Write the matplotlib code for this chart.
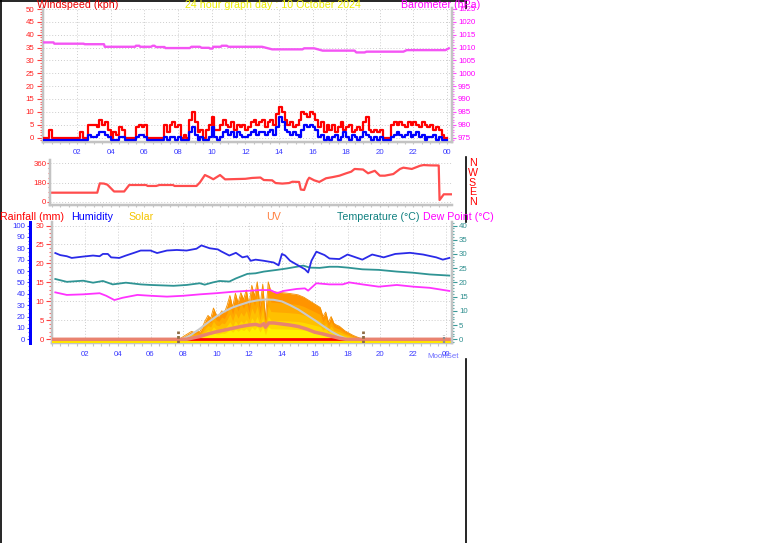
import numpy as np
import matplotlib
matplotlib.use("Agg")
import matplotlib.pyplot as plt
from matplotlib import transforms
from matplotlib.lines import Line2D
from matplotlib.ticker import MultipleLocator

# ---------------- data ----------------
title_text = "24 hour graph day : 10 October 2024"
hour_ticks = [2, 4, 6, 8, 10, 12, 14, 16, 18, 20, 22, 24]
hour_labels = ["02", "04", "06", "08", "10", "12", "14", "16", "18", "20", "22", "00"]

# wind (kph), 10-minute samples from 00:00
wind_gust = [
    0, 0, 3, 0, 0, 0,
    0, 0, 0, 0, 0, 0,
    0, 2, 0, 0, 5, 5,
    5, 4, 7, 5, 6, 3,
    0, 2, 1, 4, 3, 0,
    0, 0, 0, 4, 5, 4,
    5, 0, 0, 0, 0, 0,
    0, 5, 2, 5, 6, 4,
    5, 0, 1, 0, 7, 10,
    6, 2, 3, 0, 3, 5,
    8, 3, 3, 5, 7, 5,
    4, 6, 3, 5, 4, 5,
    3, 4, 6, 7, 5, 6,
    7, 4, 6, 7, 5, 9,
    12, 10, 7, 5, 6, 4,
    5, 7, 10, 9, 8, 10,
    9, 7, 4, 6, 2, 5,
    3, 5, 2, 4, 6, 3,
    4, 5, 2, 3, 4, 3,
    6, 8, 3, 2, 3, 2,
    3, 0, 0, 0, 5, 6,
    5, 6, 5, 4, 6, 5,
    6, 5, 4, 6, 5, 4,
    5, 3, 4, 3, 1, 0]
wind_avg = [
    0, 0, 0, 0, 0, 0,
    0, 0, 0, 0, 0, 0,
    0, 0, 0, 0, 2, 1,
    1, 2, 3, 3, 2, 1,
    0, 0, 0, 1, 1, 0,
    0, 0, 0, 1, 2, 2,
    1, 0, 0, 0, 0, 0,
    0, 1, 0, 1, 1, 0,
    1, 0, 0, 0, 3, 5,
    2, 0, 1, 0, 0, 1,
    5, 1, 0, 1, 3, 4,
    2, 3, 1, 3, 2, 1,
    1, 2, 3, 4, 2, 3,
    3, 2, 3, 4, 2, 5,
    9, 7, 4, 3, 2, 3,
    2, 1, 4, 6, 5, 6,
    5, 4, 1, 2, 0, 1,
    0, 1, 2, 0, 1, 3,
    1, 0, 2, 1, 0, 1,
    3, 2, 1, 0, 1, 0,
    1, 0, 0, 0, 1, 2,
    3, 2, 1, 2, 3, 1,
    2, 3, 1, 2, 0, 1,
    1, 2, 0, 1, 0, 0]

baro_hours = [0, 0.6, 0.65, 2.4, 2.45, 3.6, 3.65, 5.45, 5.5, 5.7, 5.75, 6.4, 6.5, 6.6,
              6.7, 7.2, 7.25, 8.7, 8.8, 9.3, 9.4, 9.85, 9.9, 10.05, 10.1, 10.55, 10.6,
              10.9, 11.0, 13.0, 13.6, 15.4, 15.5, 16.1, 16.6, 18.5, 18.6, 19.1, 19.2,
              21.4, 21.6, 23.9, 24.1]
baro_hpa = [1012.0, 1012.0, 1011.5, 1011.5, 1011.3, 1011.3, 1010.3, 1010.3, 1010.7,
            1010.7, 1010.3, 1010.3, 1010.7, 1010.7, 1010.2, 1010.2, 1009.8, 1009.8,
            1010.3, 1010.3, 1009.9, 1009.9, 1009.6, 1009.6, 1010.3, 1010.3, 1010.7,
            1010.7, 1010.3, 1010.3, 1009.3, 1009.3, 1009.7, 1009.7, 1008.8, 1008.8,
            1008.1, 1008.1, 1008.4, 1008.4, 1009.0, 1009.0, 1009.7]

dir_hours = [0.51, 3.2, 3.35, 3.6, 3.8, 4.2, 4.8, 5.1, 6.1, 6.2, 6.7, 6.9, 7.7, 7.8, 9.1,
             9.3, 9.6, 9.85, 10.1, 10.5, 10.8, 11.5, 12.0, 12.4, 12.9, 13.1, 13.6, 13.8,
             14.2, 14.6, 14.8, 15.2, 15.3, 15.5, 15.7, 15.8, 16.1, 16.4, 16.8, 17.2,
             17.6, 18.0, 18.3, 18.5, 19.0, 19.3, 19.7, 20.0, 20.3, 20.8, 21.2, 21.4,
             21.9, 22.4, 22.6, 23.0, 23.5, 23.55, 23.8, 24.29]
dir_deg = [86, 86, 172, 170, 160, 97, 97, 157, 157, 148, 148, 157, 157, 148, 148, 180,
           249, 231, 210, 249, 209, 212, 214, 222, 226, 203, 200, 175, 170, 175, 187,
           185, 115, 111, 200, 224, 200, 185, 219, 230, 243, 265, 280, 305, 300, 265,
           288, 243, 243, 258, 305, 317, 305, 335, 341, 338, 337, 18, 71, 71]
compass = ["N", "W", "S", "E", "N"]
compass_deg = [360, 270, 180, 90, 0]

hum_hours = [0.2, 0.5, 0.9, 1.2, 1.9, 2.5, 2.9, 3.1, 3.4, 3.6, 4.1, 4.5, 5.0, 5.4, 6.0,
             6.4, 7.0, 7.6, 8.2, 8.8, 9.1, 9.6, 10.1, 10.3, 10.8, 11.2, 11.6, 11.9, 12.1,
             12.4, 12.9, 13.5, 13.8, 14.0, 14.2, 14.5, 14.8, 15.1, 15.4, 15.6, 15.8,
             16.1, 16.6, 16.9, 17.5, 18.0, 18.5, 18.9, 19.5, 20.2, 20.9, 21.8, 22.6,
             23.4, 23.8, 24.2]
hum_values = [75.8, 74, 73, 71.5, 72.7, 73.6, 73, 75, 75, 72, 71.5, 73.6, 76, 78, 78,
              75.8, 78, 78.5, 78, 79.6, 82.5, 80, 79, 77.3, 73.6, 76, 72, 73, 69, 70,
              69, 67.5, 65, 75, 73.6, 69, 66.5, 64, 61.6, 58.7, 69, 77, 74, 71, 70.5,
              74.5, 72, 70, 74.5, 72, 75, 76, 74.5, 72, 70, 71.5]

temp_hours = [0.2, 0.9, 1.9, 2.5, 3.1, 3.7, 4.5, 5.4, 6.0, 7.4, 8.2, 9.0, 9.3, 9.8, 10.2,
              10.8, 11.2, 11.9, 12.4, 12.9, 13.7, 14.3, 14.9, 15.3, 15.7, 16.3, 16.9,
              17.4, 18.0, 18.9, 19.9, 21.0, 22.0, 23.0, 24.2]
temp_values = [21.2, 20.2, 20.6, 19.9, 20.5, 19.3, 19.9, 19.3, 19.1, 18.8, 19.1, 19.7,
               19.2, 20.0, 20.5, 20.3, 21.4, 23.0, 23.2, 23.8, 24.4, 24.9, 25.5, 25.9,
               25.2, 25.1, 25.5, 25.5, 25.2, 24.6, 24.4, 23.8, 23.4, 22.8, 22.4]

dew_hours = [0.2, 0.9, 1.9, 2.9, 3.3, 3.8, 4.3, 5.2, 6.0, 7.0, 8.0, 9.0, 10.0, 11.0, 12.1,
             12.7, 13.3, 13.7, 14.1, 14.9, 15.4, 15.6, 16.1, 16.9, 17.7, 18.1, 18.9,
             19.9, 21.0, 22.0, 23.0, 24.2]
dew_values = [16.5, 15.6, 15.8, 16.2, 15.3, 13.8, 14.6, 15.6, 15.3, 15.0, 15.3, 15.8,
              16.2, 16.7, 17.1, 17.3, 17.3, 16.2, 17.0, 17.7, 17.9, 17.1, 19.7, 19.3,
              19.3, 20.0, 19.3, 18.5, 19.1, 18.5, 18.1, 17.0]

# solar radiation (W/m2), 10-minute samples from 07:30
solar_start = 7.5
solar_values = [0, 0, 8,
                25, 40, 55, 70, 60, 75,
                65, 110, 165, 210, 185, 275,
                215, 205, 250, 235, 300, 385,
                280, 405, 320, 410, 350, 435,
                300, 475, 380, 505, 290, 485,
                175, 505, 420, 418, 415, 412,
                410, 408, 405, 402, 398, 395,
                390, 380, 370, 355, 340, 325,
                310, 295, 280, 200, 240, 150,
                200, 140, 125, 115, 95, 75,
                62, 48, 35, 25, 15, 6,
                0]
theo_hours = [7.9, 8.25, 8.5, 9.0, 9.5, 10.0, 10.5, 11.0, 11.5, 12.0, 12.5, 13.0, 13.5,
              14.0, 14.5, 15.0, 15.5, 16.0, 16.5, 17.0, 17.5, 18.0]
theo_values = [0, 22, 42, 92, 148, 200, 245, 280, 305, 328, 342, 350, 347, 333, 300,
               262, 215, 168, 118, 70, 30, 0]

uv_hours = [0.0, 8.2, 8.5, 9.0, 9.5, 10.0, 10.5, 11.0, 11.5, 12.0, 12.4, 12.7, 12.9,
            13.0, 13.2, 13.5, 14.0, 14.5, 15.0, 15.5, 16.0, 16.5, 17.0, 17.5, 17.9, 24.36]
uv_values = [0, 0, 0.15, 0.4, 0.75, 1.05, 1.3, 1.55, 1.8, 2.0, 2.1, 1.9, 2.2, 1.7, 2.3,
             2.3, 2.15, 2.0, 1.8, 1.45, 1.0, 0.75, 0.45, 0.15, 0, 0]

rain_hours = [0.0, 24.36]
rain_mm = [0.0, 0.0]

sun_events = [7.65, 18.97]
moonset = [23.9]

# ---------------- layout helpers ----------------
W, H = 761, 543
P = 0.72  # points per pixel at 100 dpi

plt.rcParams['font.family'] = ['Liberation Sans', 'DejaVu Sans']

fig = plt.figure(figsize=(W / 100, H / 100), dpi=100)
fig.patch.set_facecolor('white')


def box(x0, y0, x1, y1):
    return [x0 / W, 1 - y1 / H, (x1 - x0) / W, (y1 - y0) / H]


def px_lims(v0, v1, zero_px, v1_px, top_px, bot_px):
    ppu = (zero_px - v1_px) / (v1 - v0)
    return (v0 - (bot_px - zero_px) / ppu, v1 + (v1_px - top_px) / ppu)


GRAY = "#c3c3c3"
GRIDKW = dict(color="#cdcdcd", linestyle=(0, (1, 2)), linewidth=0.7)
TFS = 5.7
HFS = 7.7
XLAB = "#3a3aff"


def hide_spines(ax, keep=()):
    for k, s in ax.spines.items():
        s.set_visible(k in keep)
        if k in keep:
            s.set_color(GRAY)
            s.set_linewidth(2.5 * P)


# ---------------- top panel: wind + barometer ----------------
ax1 = fig.add_axes(box(43.4, 8, 452, 142))
ax1.set_xlim(0, 24.29)
ax1.set_ylim(*px_lims(0, 50, 137.5, 9, 8, 142))
ax1.set_axisbelow(True)
ax1.grid(True, which='major', **GRIDKW)
wind_hours = np.arange(len(wind_gust)) / 6.0
wh = np.append(wind_hours, 24.0)
ax1.step(wh, np.append(wind_gust, wind_gust[-1]), where='post', color='#ff0000',
         lw=1.6, zorder=3)
blue_tr = transforms.offset_copy(ax1.transData, fig=fig, x=0, y=-2.5, units='dots')
ax1.step(wh, np.append(wind_avg, wind_avg[-1]), where='post', color='#0000ff',
         lw=1.6, zorder=4, transform=blue_tr)
ax1.set_xticks(hour_ticks)
ax1.set_xticklabels(hour_labels)
ax1.xaxis.set_minor_locator(MultipleLocator(0.5))
ax1.tick_params(axis='x', which='both', colors=GRAY, labelcolor=XLAB, labelsize=TFS,
                length=2 * P, width=0.8, pad=5 * P)
ax1.yaxis.set_major_locator(MultipleLocator(5))
ax1.yaxis.set_minor_locator(MultipleLocator(1))
ax1.tick_params(axis='y', which='major', colors='#ff4040', labelcolor='#ff2020',
                labelsize=TFS, length=6 * P, width=0.8, pad=3 * P)
ax1.tick_params(axis='y', which='minor', colors='#ff6060', length=3 * P, width=0.8)
hide_spines(ax1, keep=('left', 'bottom'))

ax1b = ax1.twinx()
ax1b.set_ylim(*px_lims(975, 1025, 137.5, 9, 8, 142))
ax1b.plot(baro_hours, baro_hpa, color='#f455f4', lw=1.7)
ax1b.yaxis.set_major_locator(MultipleLocator(5))
ax1b.yaxis.set_minor_locator(MultipleLocator(1))
ax1b.tick_params(axis='y', which='major', colors='#ff50ff', labelcolor='#ff00ff',
                 labelsize=TFS, length=4 * P, width=0.8, pad=2 * P)
ax1b.tick_params(axis='y', which='minor', colors='#ff70ff', length=2 * P, width=0.8)
hide_spines(ax1b, keep=('right',))

# ---------------- middle panel: wind direction ----------------
ax2 = fig.add_axes(box(50, 160, 452, 205))
ax2.set_xlim(0.39, 24.29)
ax2.set_ylim(*px_lims(0, 360, 202, 163, 160, 205))
ax2.set_axisbelow(True)
ax2.yaxis.grid(True, **GRIDKW)
ax2.plot(dir_hours, dir_deg, color='#ff4d4d', lw=1.6)
ax2.set_yticks([0, 180, 360])
ax2.yaxis.set_minor_locator(MultipleLocator(45))
ax2.tick_params(axis='y', which='major', colors='#ff4040', labelcolor='#ff2020',
                labelsize=TFS, length=3 * P, width=0.8, pad=0.5 * P)
ax2.tick_params(axis='y', which='minor', colors='#ff6060', length=2 * P, width=0.8)
ax2.set_xticks(hour_ticks)
ax2.set_xticklabels([])
ax2.xaxis.set_minor_locator(MultipleLocator(0.5))
ax2.tick_params(axis='x', which='both', colors=GRAY, length=2 * P, width=0.8)
hide_spines(ax2, keep=('left', 'bottom'))
for c, d in zip(compass, compass_deg):
    ax2.text(1.051, d, c, transform=ax2.get_yaxis_transform(), ha='center',
             va='center', color='#ff0000', fontsize=HFS, clip_on=False)

# ---------------- bottom panel ----------------
BZ, BMAX, BTOP, BBOT = 339.3, 225.5, 222, 343
ax3 = fig.add_axes(box(52, BTOP, 452, BBOT))
ax3.set_zorder(1)
ax3.set_xlim(0, 24.36)
ax3.set_ylim(*px_lims(0, 30, BZ, BMAX, BTOP, BBOT))
ax3.set_axisbelow(True)
ax3.grid(True, which='major', **GRIDKW)
ax3.yaxis.set_major_locator(MultipleLocator(5))
ax3.yaxis.set_minor_locator(MultipleLocator(1))
ax3.tick_params(axis='y', which='major', colors='#ff4040', labelcolor='#ff2020',
                labelsize=TFS, length=6 * P, width=0.8, pad=2 * P)
ax3.tick_params(axis='y', which='minor', colors='#ff6060', length=3 * P, width=0.8)
ax3.set_xticks(hour_ticks)
ax3.set_xticklabels(hour_labels)
ax3.xaxis.set_minor_locator(MultipleLocator(0.5))
ax3.tick_params(axis='x', which='both', colors=GRAY, labelcolor=XLAB, labelsize=TFS,
                length=3 * P, width=0.8, pad=5 * P)
hide_spines(ax3, keep=('left', 'bottom'))

# solar
ax_s = ax3.twinx()
ax_s.set_zorder(2)
ax_s.set_ylim(*px_lims(0, 1000, BZ, BMAX, BTOP, BBOT))
ax_s.set_axis_off()
solar_hours = solar_start + np.arange(len(solar_values)) / 6.0
sv = np.array(solar_values, dtype=float)
ax_s.axhspan(-30, -6, color='#ffe600', lw=0)
for frac, col in zip([1.0, 0.78, 0.58, 0.4, 0.22],
                     ['#ff9400', '#ffa900', '#ffc000', '#ffd800', '#fff200']):
    ax_s.fill_between(solar_hours, 0, sv * frac, color=col, lw=0)
ax_s.plot(solar_hours, sv, color='#f39000', lw=0.6)
ax_s.plot(theo_hours, theo_values, color='#c9c9c9', lw=1.5)

# rain
ax_r = ax3.twinx()
ax_r.set_zorder(3)
ax_r.set_ylim(*px_lims(0, 30, BZ, BMAX, BTOP, BBOT))
ax_r.set_axis_off()
ax_r.plot(rain_hours, rain_mm, color='#ff0000', lw=2.0)

# uv
ax_u = ax3.twinx()
ax_u.set_zorder(4)
ax_u.set_ylim(*px_lims(0, 16, BZ, BMAX, BTOP, BBOT))
ax_u.set_axis_off()
ax_u.plot(uv_hours, uv_values, color='#e98370', lw=2.5, solid_capstyle='butt')

# temperature & dew point
ax_t = ax3.twinx()
ax_t.set_zorder(5)
ax_t.set_ylim(*px_lims(0, 40, BZ, BMAX, BTOP, BBOT))
ax_t.plot(temp_hours, temp_values, color='#2f9494', lw=1.3)
ax_t.plot(dew_hours, dew_values, color='#ff33ff', lw=1.3)
ax_t.yaxis.set_major_locator(MultipleLocator(5))
ax_t.yaxis.set_minor_locator(MultipleLocator(1))
ax_t.tick_params(axis='y', which='major', colors='#3a9a9a', labelcolor='#2f8f8f',
                 labelsize=TFS, length=5 * P, width=0.8, pad=2 * P)
ax_t.tick_params(axis='y', which='minor', colors='#5aaaaa', length=2.5 * P, width=0.8)
hide_spines(ax_t, keep=('right',))

# humidity
ax_h = ax3.twinx()
ax_h.set_zorder(6)
ax_h.set_ylim(*px_lims(0, 100, BZ, BMAX, BTOP, BBOT))
ax_h.plot(hum_hours, hum_values, color='#2a2ae8', lw=1.3)
ax_h.yaxis.tick_left()
ax_h.yaxis.set_label_position('left')
hide_spines(ax_h, keep=('left',))
ax_h.spines['left'].set_position(('outward', 21.8 * P))
ax_h.spines['left'].set_color('#0000ff')
ax_h.spines['left'].set_linewidth(3 * P)
ax_h.yaxis.set_major_locator(MultipleLocator(10))
ax_h.yaxis.set_minor_locator(MultipleLocator(10 / 3))
ax_h.tick_params(axis='y', which='major', colors='#3030ff', labelcolor='#3030ff',
                 labelsize=TFS, length=3.5 * P, width=0.8, pad=1.5 * P)
ax_h.tick_params(axis='y', which='minor', colors='#5050ff', length=2 * P, width=0.8)

# sunrise / sunset / moonset markers
ax_h.vlines(sun_events, 0, 0.1, transform=ax_h.get_xaxis_transform(),
            colors='#8e6c44', linestyles=(0, (1.0, 0.7)), lw=2.0)
ax_h.vlines(moonset, 0, 0.07, transform=ax_h.get_xaxis_transform(),
            colors='#8f8f8f', linestyles=(0, (1.0, 0.7)), lw=1.6)

# ---------------- texts ----------------
def ftext(x, y, s, color, size=HFS):
    fig.text(x / W, 1 - y / H, s, color=color, fontsize=size, va='baseline', ha='left')


ftext(37, 7.5, "Windspeed (kph)", '#e80000')
ftext(185, 7.5, title_text, '#eded00')
ftext(401, 7.5, "Barometer (hPa)", '#ff00ff')

ftext(0.5, 219.5, "Rainfall (mm)", '#ff0000')
ftext(71, 219.5, "Humidity", '#0000ff')
ftext(128, 219.5, "Solar", '#f5c400')
ftext(266, 219.5, "UV", '#ff8040')
ftext(337, 219.5, "Temperature (°C)", '#108080')
ftext(423, 219.5, "Dew Point (°C)", '#ff00ff')
ftext(427, 357.5, "MoonSet", '#7070ff', size=TFS)

# ---------------- frame lines ----------------
def fline(x0, y0, x1, y1):
    fig.add_artist(Line2D([x0 / W, x1 / W], [1 - y0 / H, 1 - y1 / H],
                          transform=fig.transFigure, color='black', lw=1.2))


fline(0.7, 0, 0.7, H)
fline(0, 0.7, 465.5, 0.7)
fline(465.5, 0, 465.5, 8)
fline(465.5, 157, 465.5, 222)
fline(465.5, 359, 465.5, H)

fig.savefig('out.png', dpi=100, facecolor='white')
